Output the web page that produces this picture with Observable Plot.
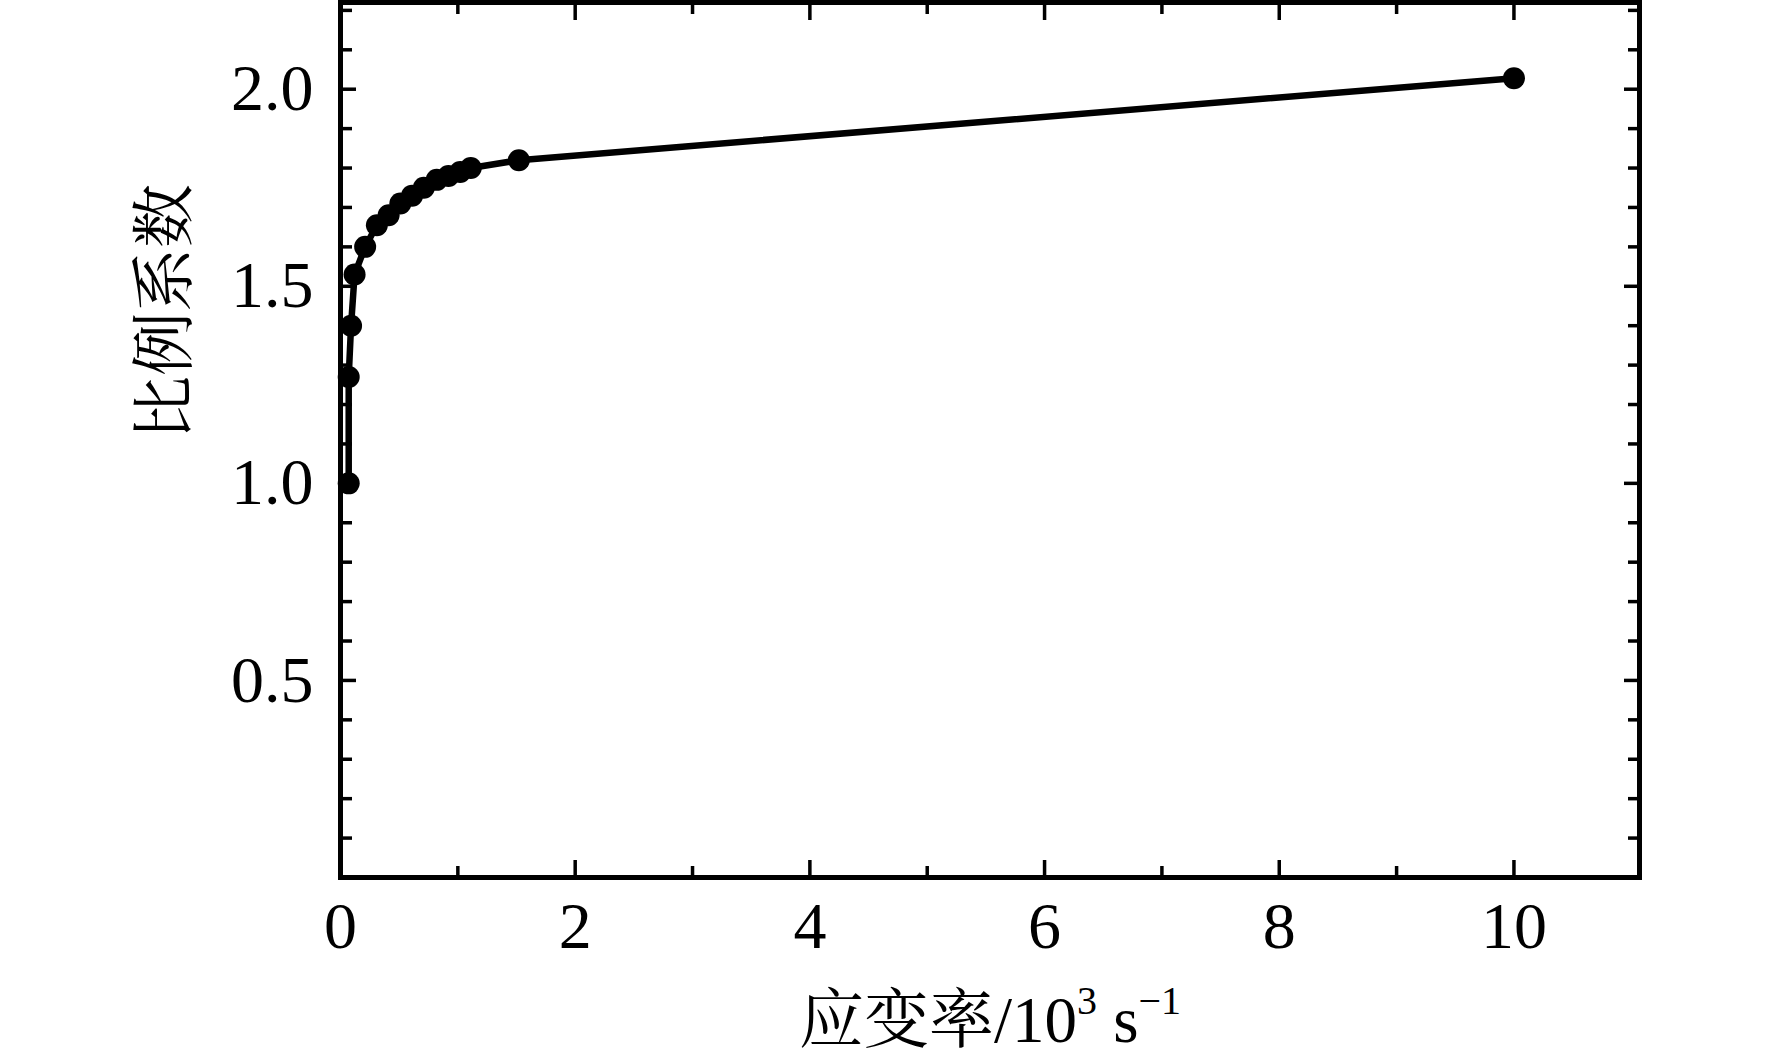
<!DOCTYPE html>
<html>
<head>
<meta charset="utf-8">
<script src="https://cdn.jsdelivr.net/npm/d3@7"></script>
<script src="https://cdn.jsdelivr.net/npm/@observablehq/plot@0.6"></script>
<style>
  body { margin: 0; background: #fff; }
</style>
</head>
<body>
<div id="chart"></div>
<script>
// strain rate (10^3 s^-1) against ratio coefficient
const strainRate = [0.07, 0.07, 0.09, 0.12, 0.21, 0.31, 0.41, 0.51, 0.61, 0.71, 0.82, 0.92, 1.02, 1.11, 1.52, 10];
const ratio = [1.00, 1.27, 1.40, 1.53, 1.60, 1.655, 1.68, 1.71, 1.73, 1.75, 1.77, 1.78, 1.79, 1.80, 1.82, 2.028];

const xMajor = [0, 2, 4, 6, 8, 10];
const xMinor = [1, 3, 5, 7, 9];
const yMajor = [0.5, 1.0, 1.5, 2.0];
const yMinor = [0.1, 0.2, 0.3, 0.4, 0.6, 0.7, 0.8, 0.9, 1.1, 1.2, 1.3, 1.4, 1.6, 1.7, 1.8, 1.9, 2.1, 2.2];

// x title pieces: [text, superscript?]
const xLabelParts = [["应变率/10", false], ["3", true], [" s", false], ["−1", true]];
const xLabel = xLabelParts.map(p => p[0]).join("");
const yLabel = "比例系数";

const rows = strainRate.map((x, i) => ({x, y: ratio[i]}));

const latin = "Liberation Serif, Times New Roman, serif";
const cjk = "Liberation Serif, Noto Serif CJK SC, Noto Sans CJK SC, serif";
const blank = () => "";

const tickOpts = {strokeWidth: 3.5, tickFormat: blank, label: null};

const chart = Plot.plot({
  width: 1772,
  height: 1064,
  marginLeft: 340,
  marginRight: 133,
  marginTop: 2,
  marginBottom: 187,
  style: {background: "#fff", color: "#000"},
  x: {domain: [0, 11.07]},
  y: {domain: [0, 2.22]},
  marks: [
    // inward ticks on all four sides
    Plot.axisX({...tickOpts, anchor: "bottom", ticks: xMajor, tickSize: -17}),
    Plot.axisX({...tickOpts, anchor: "bottom", ticks: xMinor, tickSize: -11}),
    Plot.axisX({...tickOpts, anchor: "top", ticks: xMajor, tickSize: -17}),
    Plot.axisX({...tickOpts, anchor: "top", ticks: xMinor, tickSize: -11}),
    Plot.axisY({...tickOpts, anchor: "left", ticks: yMajor, tickSize: -16}),
    Plot.axisY({...tickOpts, anchor: "left", ticks: yMinor, tickSize: -12}),
    Plot.axisY({...tickOpts, anchor: "right", ticks: yMajor, tickSize: -16}),
    Plot.axisY({...tickOpts, anchor: "right", ticks: yMinor, tickSize: -12}),
    // tick labels
    Plot.axisX({anchor: "bottom", ticks: xMajor, tickSize: 0, tickPadding: 24, tickFormat: d3.format("d"),
      fontSize: 66, fontFamily: latin, label: null}),
    Plot.axisY({anchor: "left", ticks: yMajor, tickSize: 0, tickPadding: 27, tickFormat: d3.format(".1f"),
      fontSize: 66, fontFamily: latin, label: null}),
    Plot.frame({stroke: "#000", strokeWidth: 5}),
    Plot.line(rows, {x: "x", y: "y", stroke: "#000", strokeWidth: 6.5}),
    Plot.dot(rows, {x: "x", y: "y", r: 11, fill: "#000", stroke: "none"}),
    // axis titles
    Plot.text([xLabel], {text: d => d, frameAnchor: "bottom", dy: 144, lineAnchor: "middle",
      fontSize: 65, fontFamily: cjk, fill: "#000"}),
    Plot.text([yLabel], {text: d => d, frameAnchor: "left", dx: -175, rotate: -90, lineAnchor: "middle",
      fontSize: 64, fontFamily: cjk, fill: "#000"})
  ]
});

// rebuild the x title with real superscripts
const xTitle = d3.select(chart).selectAll("text").filter(function() { return this.textContent === xLabel; });
xTitle.text(null);
let raised = false;
for (const [part, sup] of xLabelParts) {
  const span = xTitle.append("tspan").text(part);
  if (sup) span.attr("font-size", 40);
  if (sup !== raised) span.attr("dy", sup ? -28 : 28);
  raised = sup;
}

document.getElementById("chart").appendChild(chart);
</script>
</body>
</html>
